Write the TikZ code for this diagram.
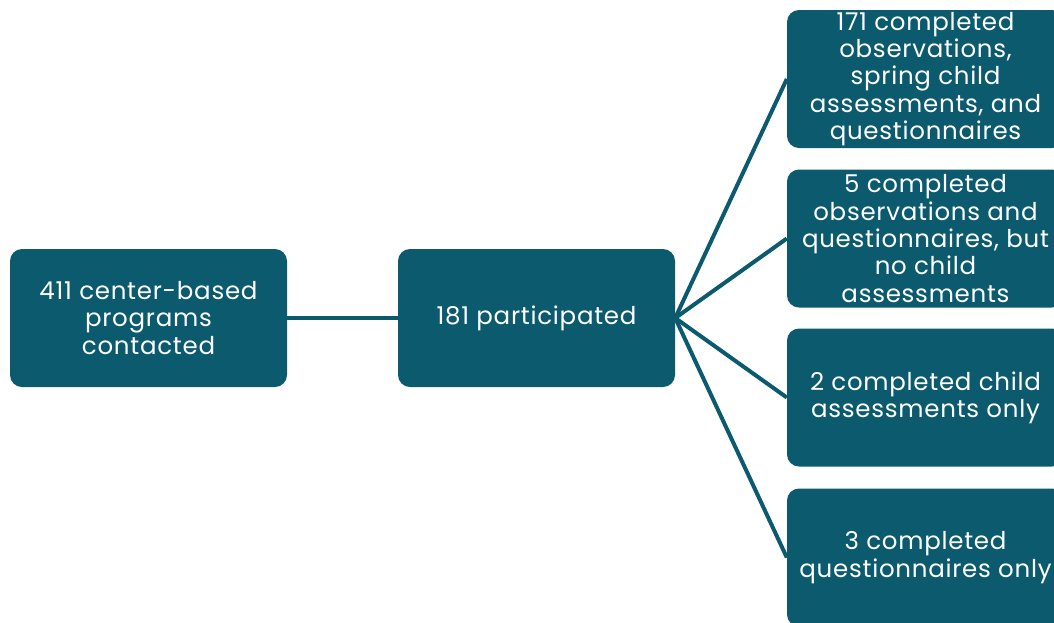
\documentclass[tikz,border=0pt]{standalone}
\usepackage{fontspec}
\setmainfont{Poppins}[LetterSpace=3]
\definecolor{teal}{HTML}{0B5A6E}
\begin{document}
\begin{tikzpicture}[x=1pt,y=-1pt,
  box/.style={fill=teal, rounded corners=12pt, minimum width=277pt, minimum height=138pt,
    text=white, align=center, inner sep=0pt, font=\fontsize{24.5}{27.3}\selectfont},
  link/.style={draw=teal, line width=4pt}]
\useasboundingbox (0,0) rectangle (1054,622);
\clip (0,0) rectangle (1054,622);
\node[box] (a) at (148.5,318) {411 center-based\\programs\\contacted};
\node[box] (b) at (536.5,318) {181 participated};
\node[box] (r1) at (925.5,79) {171 completed\\observations,\\spring child\\assessments, and\\questionnaires};
\node[box] (r2) at (925.5,238.5) {5 completed\\observations and\\questionnaires, but\\no child\\assessments};
\node[box] (r3) at (925.5,397.5) {2 completed child\\assessments only};
\node[box] (r4) at (925.5,557.5) {3 completed\\questionnaires only};
\draw[link] (a.east) -- (b.west);
\foreach \r in {r1,r2,r3,r4} \draw[link] (b.east) -- (\r.west);
\end{tikzpicture}
\end{document}
